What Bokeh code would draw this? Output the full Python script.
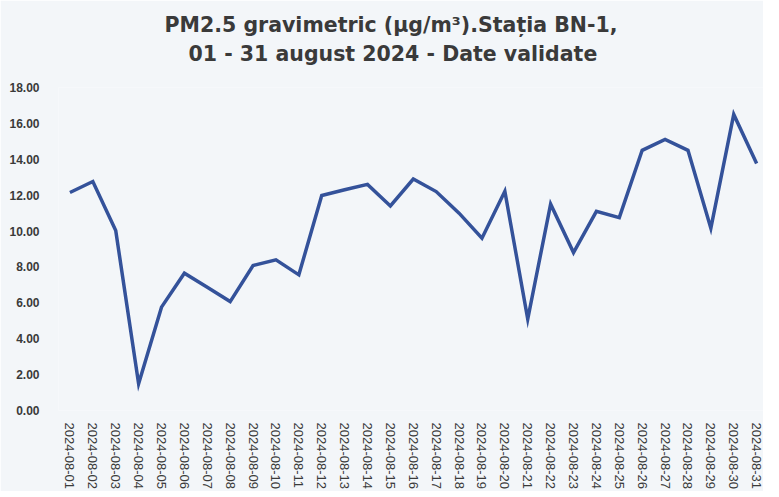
from bokeh.plotting import figure
from bokeh.models import Title, Range1d, FixedTicker, NumeralTickFormatter
from bokeh.embed import file_html
from bokeh.resources import INLINE

days = list(range(1, 32))
date_labels = [f"2024-08-{d:02d}" for d in days]
pm25 = [12.15, 12.76, 10.03, 1.49, 5.76, 7.65, 6.87, 6.07, 8.08, 8.40,
        7.56, 11.98, 12.30, 12.60, 11.40, 12.90, 12.20, 11.00, 9.60, 12.22,
        5.10, 11.50, 8.80, 11.10, 10.75, 14.50, 15.10, 14.50, 10.16, 16.50,
        13.77]
y_ticks = [0, 2, 4, 6, 8, 10, 12, 14, 16, 18]
title_line1 = "PM2.5 gravimetric (\u00b5g/m\u00b3).Sta\u021bia BN-1,"
title_line2 = "01 - 31 august 2024 - Date validate"

bg = "#f3f6f9"
p = figure(frame_width=705, frame_height=323, output_backend="svg", toolbar_location=None,
           x_range=Range1d(0.5, 31.3), y_range=Range1d(0, 18),
           background_fill_color=bg, border_fill_color=bg,
           min_border_left=58, min_border_right=0, min_border_top=87, min_border_bottom=0)
p.outline_line_color = None
p.xgrid.grid_line_color = None
p.ygrid.grid_line_color = None

p.line(days, pm25, line_color="#34529a", line_width=3.5, line_join="miter")

common = dict(align="left", text_font="DejaVu Sans", text_font_size="20.5px",
              text_font_style="bold", text_color="#3a3a3a")
# spacer between the chart area and the two-line title
p.add_layout(Title(text=" ", text_font_size="10px", standoff=9), "above")
p.add_layout(Title(text=title_line2, offset=130, standoff=0, **common), "above")
p.add_layout(Title(text=title_line1, offset=106, standoff=6, **common), "above")

p.yaxis.ticker = FixedTicker(ticks=y_ticks)
p.yaxis.formatter = NumeralTickFormatter(format="0.00")
p.yaxis.axis_line_color = None
p.yaxis.major_tick_line_color = None
p.yaxis.minor_tick_line_color = None
p.yaxis.major_label_standoff = 13
p.yaxis.major_label_text_font = "Liberation Sans"
p.yaxis.major_label_text_font_style = "bold"
p.yaxis.major_label_text_font_size = "12px"
p.yaxis.major_label_text_color = "#3a3a3a"

p.xaxis.ticker = FixedTicker(ticks=days)
p.xaxis.major_label_overrides = {d: lab for d, lab in zip(days, date_labels)}
p.xaxis.axis_line_color = None
p.xaxis.major_tick_line_color = None
p.xaxis.minor_tick_line_color = None
p.xaxis.major_label_orientation = "vertical"
p.xaxis.major_label_standoff = 6
p.xaxis.major_label_text_font = "Liberation Sans"
p.xaxis.major_label_text_font_size = "13px"
p.xaxis.major_label_text_color = "#3a3a3a"

open("out.html", "w").write(file_html(p, INLINE))
